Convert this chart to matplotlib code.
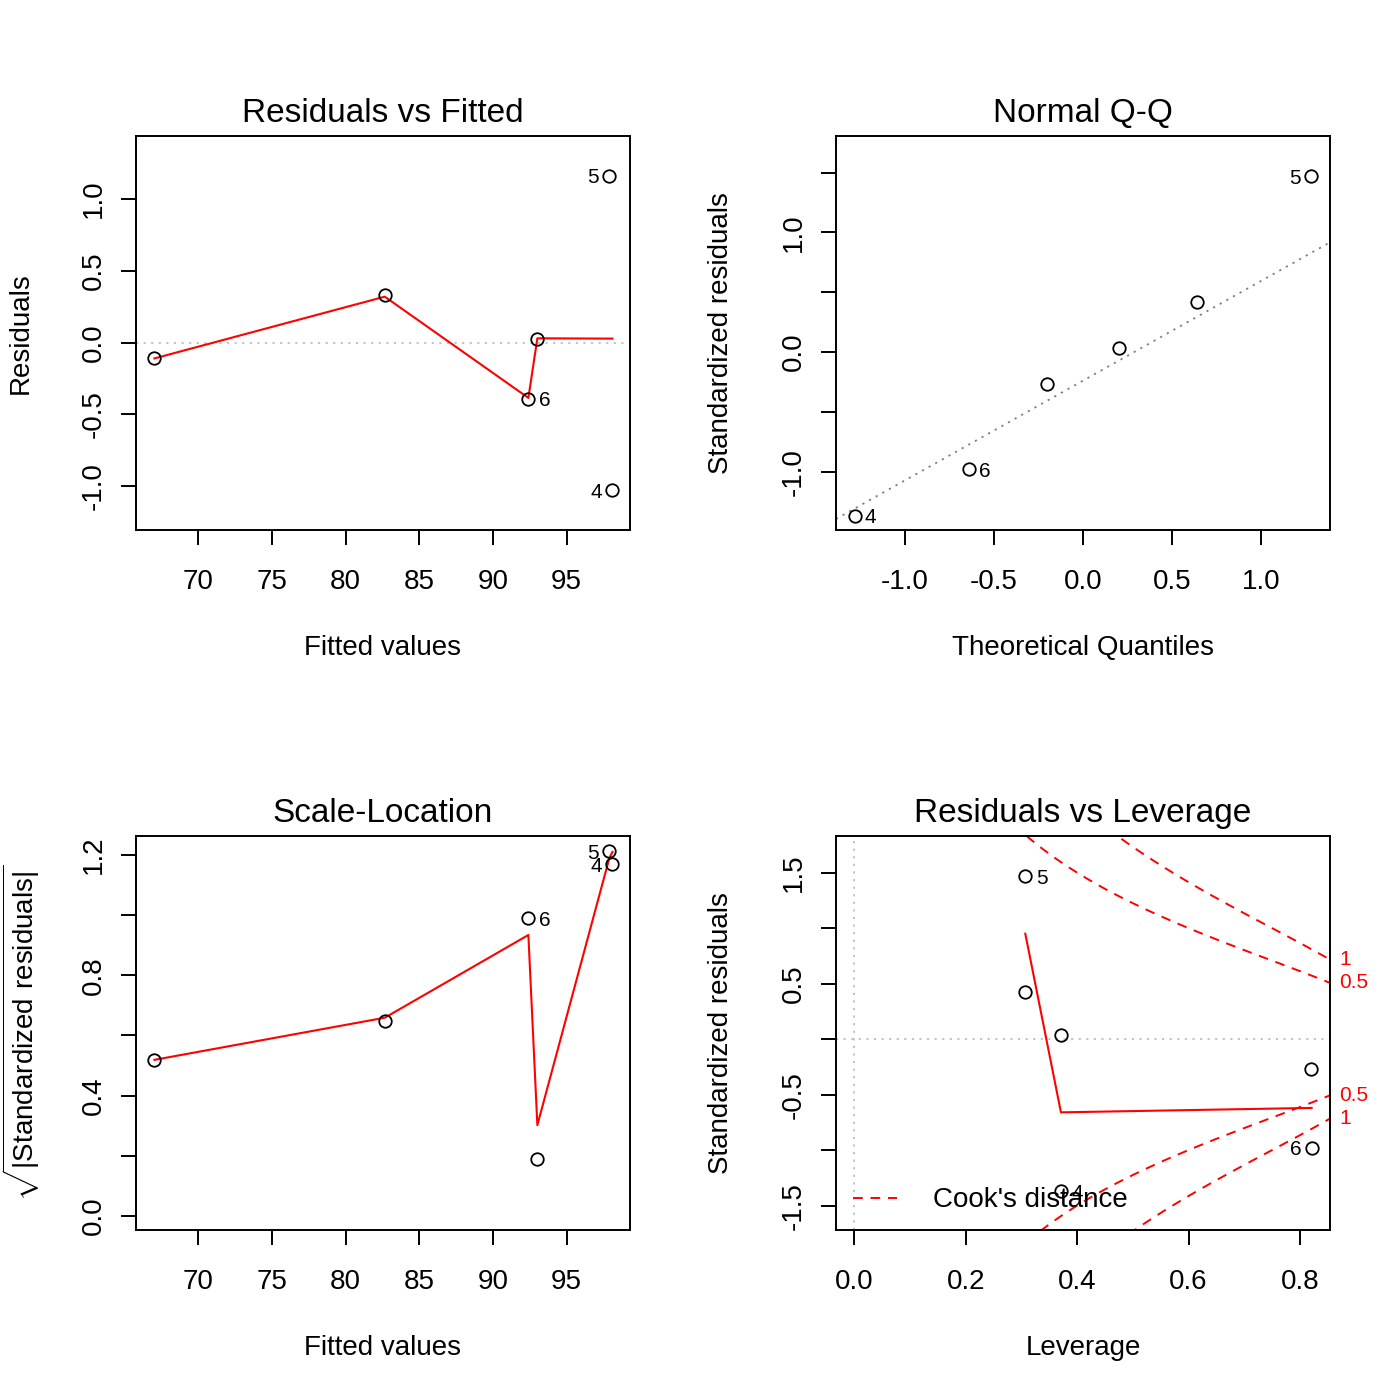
import numpy as np
import matplotlib
matplotlib.use("Agg")
import matplotlib.pyplot as plt
from matplotlib.transforms import blended_transform_factory

plt.rcParams['font.family'] = ['Liberation Sans', 'DejaVu Sans']
plt.rcParams['mathtext.fontset'] = 'custom'
plt.rcParams['mathtext.rm'] = 'Liberation Sans'
plt.rcParams['axes.unicode_minus'] = False

fitted = [67.01, 82.65, 92.40, 93.01, 97.90, 98.11]
resid = [-0.109, 0.335, -0.391, 0.028, 1.162, -1.028]
std_resid = [-0.27, 0.42, -0.98, 0.036, 1.47, -1.368]
leverage = [0.820, 0.307, 0.821, 0.371, 0.307, 0.371]
obs_id = ['', '', '6', '', '5', '4']
qq_theor = [-1.28, -0.64, -0.20, 0.20, 0.64, 1.28]

# smoother curves
rf_smooth_y = [-0.11, 0.32, -0.385, 0.03, 0.028, 0.028]
sl_smooth_y = [0.519, 0.659, 0.934, 0.302, 1.19, 1.21]
lev_smooth_x = [0.307, 0.371, 0.821]
lev_smooth_y = [0.95, -0.66, -0.62]

n_par = 3
cook_levels = [0.5, 1.0]

fs = 20
fig = plt.figure(figsize=(14, 14), dpi=100)
W = 1400.0

def make_ax(l, t, r, b):
    return fig.add_axes([l / W, 1 - b / W, (r - l) / W, (b - t) / W])

ax1 = make_ax(136, 136, 630, 530)
ax2 = make_ax(836, 136, 1330, 530)
ax3 = make_ax(136, 836, 630, 1230)
ax4 = make_ax(836, 836, 1330, 1230)

def style(ax, title, xlabel, ylabel, xt, xtl, yt, ytl):
    for s in ax.spines.values():
        s.set_linewidth(1.4)
    ax.set_xticks(xt)
    ax.set_xticklabels(xtl)
    ax.set_yticks(yt)
    ax.set_yticklabels(ytl, rotation=90, va='center')
    ax.tick_params(axis='both', length=11, width=1.4, labelsize=fs)
    ax.tick_params(axis='x', pad=17)
    ax.tick_params(axis='y', pad=10)
    ax.set_title(title, fontsize=24, y=1.058, va='center', pad=0)
    ax.set_xlabel(xlabel, fontsize=fs)
    ax.set_ylabel(ylabel, fontsize=fs)
    ax.xaxis.set_label_coords(0.5, -0.2995)
    ax.xaxis.label.set_va('center')
    ax.yaxis.set_label_coords(-0.2328, 0.5)
    ax.yaxis.label.set_va('center')

def pts(ax, x, y):
    ax.plot(x, y, 'o', ms=9, mfc='none', mec='black', mew=1.3, ls='none',
            zorder=3)

def label_pts(ax, x, y, ids, sides):
    for xi, yi, t in zip(x, y, ids):
        if not t:
            continue
        side = sides[t]
        ax.annotate(t, (xi, yi), xytext=(7.5 * side, -1.5), textcoords='offset points',
                    ha='left' if side > 0 else 'right', va='center',
                    fontsize=15, annotation_clip=False)

gray_dot = (0, (1.2, 3))

# 1. Residuals vs Fitted
ax1.axhline(0, color='#bebebe', lw=1.3, ls=gray_dot)
pts(ax1, fitted, resid)
ax1.plot(fitted, rf_smooth_y, color='red', lw=1.5)
label_pts(ax1, fitted, resid, obs_id, {'5': -1, '4': -1, '6': 1})
ax1.set_xlim(65.76, 99.30)
ax1.set_ylim(-1.305, 1.439)
fv_ticks = [70, 75, 80, 85, 90, 95]
style(ax1, 'Residuals vs Fitted', 'Fitted values', 'Residuals',
      fv_ticks, [str(v) for v in fv_ticks],
      [-1.0, -0.5, 0.0, 0.5, 1.0], ['-1.0', '-0.5', '0.0', '0.5', '1.0'])

# 2. Normal Q-Q
order = np.argsort(std_resid)
qx = np.empty(len(std_resid))
qx[order] = qq_theor
qy = np.array(std_resid)
q1, q3 = np.quantile(qy, [0.25, 0.75])
z = 0.6745
slope = (q3 - q1) / (2 * z)
icpt = q1 + slope * z
ax2.axline((0, icpt), slope=slope, color='#7f7f7f', lw=1.3, ls=gray_dot)
pts(ax2, qx, qy)
label_pts(ax2, qx, qy, obs_id, {'5': -1, '4': 1, '6': 1})
ax2.set_xlim(-1.384, 1.384)
ax2.set_ylim(-1.487, 1.805)
style(ax2, 'Normal Q-Q', 'Theoretical Quantiles', 'Standardized residuals',
      [-1.0, -0.5, 0.0, 0.5, 1.0], ['-1.0', '-0.5', '0.0', '0.5', '1.0'],
      [-1.0, -0.5, 0.0, 0.5, 1.0, 1.5], ['-1.0', '', '0.0', '', '1.0', ''])

# 3. Scale-Location
sq = np.sqrt(np.abs(std_resid))
pts(ax3, fitted, sq)
ax3.plot(fitted, sl_smooth_y, color='red', lw=1.5)
label_pts(ax3, fitted, sq, obs_id, {'5': -1, '4': -1, '6': 1})
ax3.set_xlim(65.76, 99.30)
ax3.set_ylim(-0.0465, 1.263)
style(ax3, 'Scale-Location', 'Fitted values',
      r'$\sqrt{|\mathrm{Standardized\ residuals}|}$',
      fv_ticks, [str(v) for v in fv_ticks],
      [0.0, 0.2, 0.4, 0.6, 0.8, 1.0, 1.2], ['0.0', '', '0.4', '', '0.8', '', '1.2'])

# 4. Residuals vs Leverage
xr = (-0.0328, 0.854)
ax4.axhline(0, color='#bebebe', lw=1.3, ls=gray_dot)
ax4.axvline(0, color='#bebebe', lw=1.3, ls=gray_dot)
pts(ax4, leverage, std_resid)
ax4.plot(lev_smooth_x, lev_smooth_y, color='red', lw=1.5)
hh = np.linspace(0.01, xr[1], 101)
trans = blended_transform_factory(ax4.transAxes, ax4.transData)
for i, c in enumerate(cook_levels):
    cl = np.sqrt(c * n_par * (1 - hh) / hh)
    kw = dict(color='red', lw=1.4, dashes=(5, 4))
    if i == 0:
        kw['label'] = "Cook's distance"
    ax4.plot(hh, cl, **kw)
    ax4.plot(hh, -cl, color='red', lw=1.4, dashes=(5, 4))
    lab = '0.5' if c == 0.5 else '1'
    yv = np.sqrt(c * n_par * (1 - xr[1]) / xr[1])
    for sgn in (1, -1):
        ax4.text(1.018, sgn * yv, lab, transform=trans, color='red', fontsize=15,
                 ha='left', va='center', clip_on=False)
label_pts(ax4, leverage, std_resid, obs_id, {'5': 1, '4': 1, '6': -1})
ax4.set_xlim(*xr)
ax4.set_ylim(-1.72, 1.83)
ax4.legend(loc='lower left', frameon=False, fontsize=fs, handlelength=1.6,
           handletextpad=1.3, borderaxespad=0.0, borderpad=0.6)
style(ax4, 'Residuals vs Leverage', 'Leverage', 'Standardized residuals',
      [0.0, 0.2, 0.4, 0.6, 0.8], ['0.0', '0.2', '0.4', '0.6', '0.8'],
      [-1.5, -1.0, -0.5, 0.0, 0.5, 1.0, 1.5], ['-1.5', '', '-0.5', '', '0.5', '', '1.5'])

fig.savefig('out.png', dpi=100)
